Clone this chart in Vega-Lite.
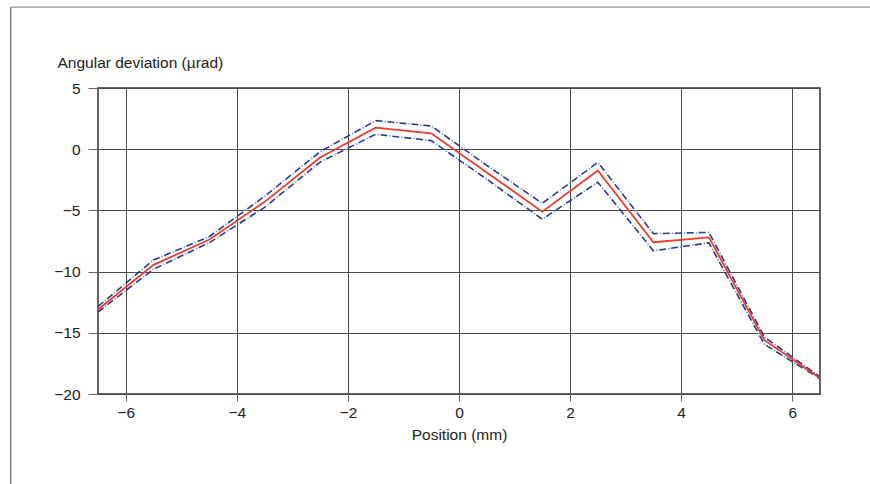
{
  "$schema": "https://vega.github.io/schema/vega-lite/v6.json",
  "autosize": {"type": "none"},
  "padding": {"left": 98, "top": 88, "right": 50, "bottom": 90},
  "width": 722,
  "height": 306,
  "background": "white",
  "config": {
    "font": "Liberation Sans",
    "view": {"stroke": "#333333", "strokeWidth": 1.5},
    "axis": {
      "grid": true,
      "gridColor": "#4a4a4a",
      "gridWidth": 1,
      "gridOpacity": 1,
      "domain": false,
      "tickColor": "#666666",
      "tickWidth": 1,
      "labelFont": "Liberation Sans",
      "labelFontSize": 15.5,
      "labelColor": "#222222",
      "titleFont": "Liberation Sans",
      "titleFontSize": 15.5,
      "titleFontWeight": "normal",
      "titleColor": "#222222"
    }
  },
  "datasets": {
    "frame": [{"id": 1}]
  },
  "data": {
    "values": [
      {"x": -6.5, "series": "mean", "value": -13.1},
      {"x": -5.5, "series": "mean", "value": -9.45},
      {"x": -4.5, "series": "mean", "value": -7.4},
      {"x": -3.5, "series": "mean", "value": -4.3},
      {"x": -2.5, "series": "mean", "value": -0.68},
      {"x": -1.5, "series": "mean", "value": 1.76},
      {"x": -0.5, "series": "mean", "value": 1.3},
      {"x": 0.5, "series": "mean", "value": -1.9},
      {"x": 1.5, "series": "mean", "value": -5.1},
      {"x": 2.5, "series": "mean", "value": -1.74},
      {"x": 3.5, "series": "mean", "value": -7.6},
      {"x": 4.5, "series": "mean", "value": -7.2},
      {"x": 5.5, "series": "mean", "value": -15.6},
      {"x": 6.5, "series": "mean", "value": -18.7},
      {"x": -6.5, "series": "upper", "value": -12.85},
      {"x": -5.5, "series": "upper", "value": -9.05},
      {"x": -4.5, "series": "upper", "value": -7.15},
      {"x": -3.5, "series": "upper", "value": -3.85},
      {"x": -2.5, "series": "upper", "value": -0.2},
      {"x": -1.5, "series": "upper", "value": 2.33},
      {"x": -0.5, "series": "upper", "value": 1.9},
      {"x": 0.5, "series": "upper", "value": -1.32},
      {"x": 1.5, "series": "upper", "value": -4.42},
      {"x": 2.5, "series": "upper", "value": -1.08},
      {"x": 3.5, "series": "upper", "value": -6.9},
      {"x": 4.5, "series": "upper", "value": -6.8},
      {"x": 5.5, "series": "upper", "value": -15.35},
      {"x": 6.5, "series": "upper", "value": -18.6},
      {"x": -6.5, "series": "lower", "value": -13.3},
      {"x": -5.5, "series": "lower", "value": -9.8},
      {"x": -4.5, "series": "lower", "value": -7.65},
      {"x": -3.5, "series": "lower", "value": -4.75},
      {"x": -2.5, "series": "lower", "value": -1.05},
      {"x": -1.5, "series": "lower", "value": 1.22},
      {"x": -0.5, "series": "lower", "value": 0.7},
      {"x": 0.5, "series": "lower", "value": -2.45},
      {"x": 1.5, "series": "lower", "value": -5.72},
      {"x": 2.5, "series": "lower", "value": -2.7},
      {"x": 3.5, "series": "lower", "value": -8.3},
      {"x": 4.5, "series": "lower", "value": -7.65},
      {"x": 5.5, "series": "lower", "value": -15.95},
      {"x": 6.5, "series": "lower", "value": -18.75}
    ]
  },
  "layer": [
    {
      "transform": [{"filter": "datum.series !== 'mean'"}],
      "mark": {"type": "line", "color": "#2b3a8f", "strokeWidth": 1.6, "strokeDash": [7, 5]},
      "encoding": {
        "x": {
          "field": "x",
          "type": "quantitative",
          "scale": {"domain": [-6.5, 6.5], "nice": false, "zero": false},
          "axis": {
            "values": [-6, -4, -2, 0, 2, 4, 6],
            "format": "d",
            "title": "Position (mm)",
            "tickSize": 7,
            "labelPadding": 4,
            "titlePadding": 7
          }
        },
        "y": {
          "field": "value",
          "type": "quantitative",
          "scale": {"domain": [-20, 5], "nice": false, "zero": false},
          "axis": {
            "values": [-20, -15, -10, -5, 0, 5],
            "format": "d",
            "title": "Angular deviation (µrad)",
            "tickSize": 10,
            "labelPadding": 8,
            "titleAngle": 0,
            "titleAlign": "left",
            "titleBaseline": "middle",
            "titleX": -41,
            "titleY": -26
          }
        },
        "detail": {"field": "series"}
      }
    },
    {
      "transform": [{"filter": "datum.series !== 'mean'"}],
      "mark": {"type": "line", "color": "#5fb0b0", "strokeWidth": 1.6, "strokeDash": [1.5, 10.5], "strokeDashOffset": 3},
      "encoding": {
        "x": {"field": "x", "type": "quantitative"},
        "y": {"field": "value", "type": "quantitative"},
        "detail": {"field": "series"}
      }
    },
    {
      "transform": [{"filter": "datum.series === 'mean'"}],
      "mark": {"type": "line", "color": "#ee3b2b", "strokeWidth": 1.8},
      "encoding": {
        "x": {"field": "x", "type": "quantitative"},
        "y": {"field": "value", "type": "quantitative"}
      }
    },
    {
      "data": {"name": "frame"},
      "mark": {"type": "rule", "color": "#777777", "strokeWidth": 1, "clip": false},
      "encoding": {
        "x": {"datum": -8.07, "type": "quantitative"},
        "x2": {"datum": 8.2},
        "y": {"datum": 11.61, "type": "quantitative"}
      }
    },
    {
      "data": {"name": "frame"},
      "mark": {"type": "rule", "color": "#444444", "strokeWidth": 1, "clip": false},
      "encoding": {
        "x": {"datum": -8.07, "type": "quantitative"},
        "y": {"datum": 11.61, "type": "quantitative"},
        "y2": {"datum": -27.5}
      }
    }
  ]
}
